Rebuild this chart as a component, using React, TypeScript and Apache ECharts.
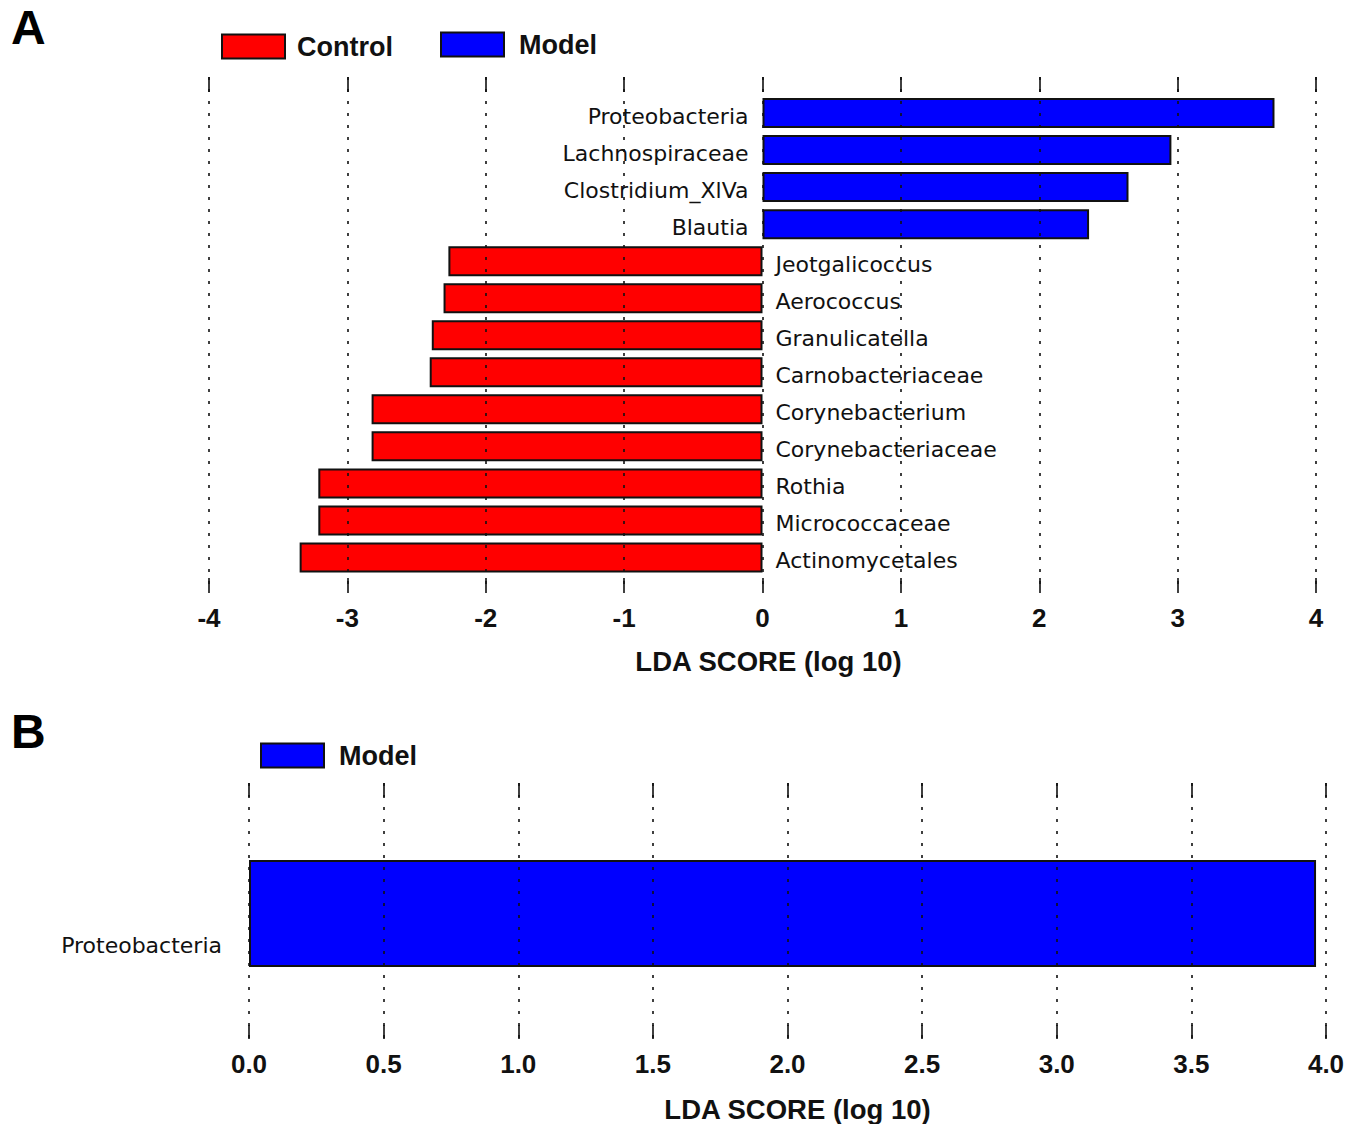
import React, { useEffect, useRef } from "react";
import * as echarts from "echarts";

const categoriesA = [
  "Proteobacteria",
  "Lachnospiraceae",
  "Clostridium_XlVa",
  "Blautia",
  "Jeotgalicoccus",
  "Aerococcus",
  "Granulicatella",
  "Carnobacteriaceae",
  "Corynebacterium",
  "Corynebacteriaceae",
  "Rothia",
  "Micrococcaceae",
  "Actinomycetales",
];
const scoresA = [3.7, 2.955, 2.645, 2.36, -2.27, -2.305, -2.39, -2.405, -2.825, -2.825, -3.21, -3.21, -3.345];
const categoriesB = ["Proteobacteria"];
const scoresB = [3.963];
const axisA = { min: -4, max: 4, interval: 1 };
const axisB = { min: 0, max: 4, interval: 0.5 };
const axisTitle = "LDA SCORE (log 10)";

const BOLD = "Liberation Sans, Arial, sans-serif";
const LABEL_FONT = "DejaVu Sans, Verdana, sans-serif";
const RED = "#ff0000";
const BLUE = "#0000ff";

export default function App() {
  const ref = useRef<HTMLDivElement>(null);
  useEffect(() => {
    const chart = echarts.init(ref.current!, null, { renderer: "svg" });
    const modelA = scoresA.map((v) => (v > 0 ? v : "-"));
    const controlA = scoresA.map((v) => (v < 0 ? v : "-"));
    const dotted = { color: "#111", width: 1.6, type: [3, 9] as any };
    const tick = (len: number) => ({ show: true, inside: true, length: len, lineStyle: { color: "#111", width: 1.6 } });
    const labelStyle = { fontFamily: LABEL_FONT, fontSize: 22, color: "#111" };
    const legendText = (pad: number) => ({
      fontFamily: BOLD, fontWeight: "bold", fontSize: 27, color: "#111", padding: [0, 0, 0, pad],
    });

    const option: any = {
      animation: false,
      backgroundColor: "#fff",
      title: [
        { text: "A", left: 11, top: 3, padding: 0, textStyle: { fontFamily: BOLD, fontWeight: "bold", fontSize: 48, color: "#000" } },
        { text: "B", left: 11, top: 707, padding: 0, textStyle: { fontFamily: BOLD, fontWeight: "bold", fontSize: 48, color: "#000" } },
      ],
      legend: [
        {
          data: ["Control"], left: 221, top: 33, padding: 0, itemWidth: 63, itemHeight: 24, icon: "rect",
          itemStyle: { borderColor: "#111", borderWidth: 2 }, textStyle: legendText(7),
        },
        {
          data: ["Model"], left: 440, top: 31, padding: 0, itemWidth: 63, itemHeight: 24, icon: "rect",
          itemStyle: { borderColor: "#111", borderWidth: 2 }, textStyle: legendText(10),
        },
        {
          data: ["Model"], left: 260, top: 742, padding: 0, itemWidth: 63, itemHeight: 24, icon: "rect",
          itemStyle: { borderColor: "#111", borderWidth: 2 }, textStyle: legendText(10),
        },
      ],
      grid: [
        { left: 209, right: 46, top: 77, height: 516 },
        { left: 209, right: 46, top: 94.5, height: 481.5 },
        { left: 249, right: 36, top: 783, height: 257 },
        { left: 249, right: 36, top: 860, height: 107 },
      ],
      xAxis: [
        {
          gridIndex: 0, type: "value", position: "bottom", ...axisA, z: 10,
          axisLine: { show: false }, axisTick: tick(15),
          splitLine: { show: true, lineStyle: dotted },
          axisLabel: { margin: 12, fontFamily: BOLD, fontWeight: "bold", fontSize: 26, color: "#111" },
          name: axisTitle, nameLocation: "middle", nameGap: 54,
          nameTextStyle: { fontFamily: BOLD, fontWeight: "bold", fontSize: 27.5, color: "#111", padding: [0, 0, 0, 12] },
        },
        {
          gridIndex: 0, type: "value", position: "top", ...axisA, z: 10,
          axisLine: { show: false }, axisTick: tick(15), axisLabel: { show: false }, splitLine: { show: false },
        },
        { gridIndex: 1, type: "value", ...axisA, show: false },
        {
          gridIndex: 2, type: "value", position: "bottom", ...axisB, z: 10,
          axisLine: { show: false }, axisTick: tick(14),
          splitLine: { show: true, lineStyle: dotted },
          axisLabel: {
            margin: 12, fontFamily: BOLD, fontWeight: "bold", fontSize: 26, color: "#111",
            formatter: (v: number) => v.toFixed(1),
          },
          name: axisTitle, nameLocation: "middle", nameGap: 56,
          nameTextStyle: { fontFamily: BOLD, fontWeight: "bold", fontSize: 27.5, color: "#111", padding: [0, 0, 0, 20] },
        },
        {
          gridIndex: 2, type: "value", position: "top", ...axisB, z: 10,
          axisLine: { show: false }, axisTick: tick(14), axisLabel: { show: false }, splitLine: { show: false },
        },
        { gridIndex: 3, type: "value", ...axisB, show: false },
      ],
      yAxis: [
        { gridIndex: 0, type: "value", show: false },
        { gridIndex: 1, type: "category", data: categoriesA, inverse: true, show: false },
        { gridIndex: 2, type: "value", show: false },
        { gridIndex: 3, type: "category", data: categoriesB, show: false },
      ],
      series: [
        {
          name: "Control", type: "bar", xAxisIndex: 2, yAxisIndex: 1, data: controlA,
          barWidth: 30, barGap: "-100%",
          itemStyle: { color: RED, borderColor: "#111", borderWidth: 2 },
          label: { show: true, position: "right", distance: 13, offset: [0, 3], formatter: "{b}", ...labelStyle },
        },
        {
          name: "Model", type: "bar", xAxisIndex: 2, yAxisIndex: 1, data: modelA,
          barWidth: 30, barGap: "-100%",
          itemStyle: { color: BLUE, borderColor: "#111", borderWidth: 2 },
          label: { show: true, position: "left", distance: 14, offset: [0, 3], formatter: "{b}", ...labelStyle },
        },
        {
          name: "Model", type: "bar", xAxisIndex: 5, yAxisIndex: 3, data: scoresB,
          barWidth: 107,
          itemStyle: { color: BLUE, borderColor: "#111", borderWidth: 2 },
          label: { show: true, position: "left", distance: 27, offset: [0, 32], formatter: "{b}", ...labelStyle },
        },
      ],
    };
    chart.setOption(option);
    return () => chart.dispose();
  }, []);
  return (
    <div
      ref={ref}
      style={{ position: "fixed", left: 0, top: 0, width: 1362, height: 1124, background: "#fff" }}
    />
  );
}
